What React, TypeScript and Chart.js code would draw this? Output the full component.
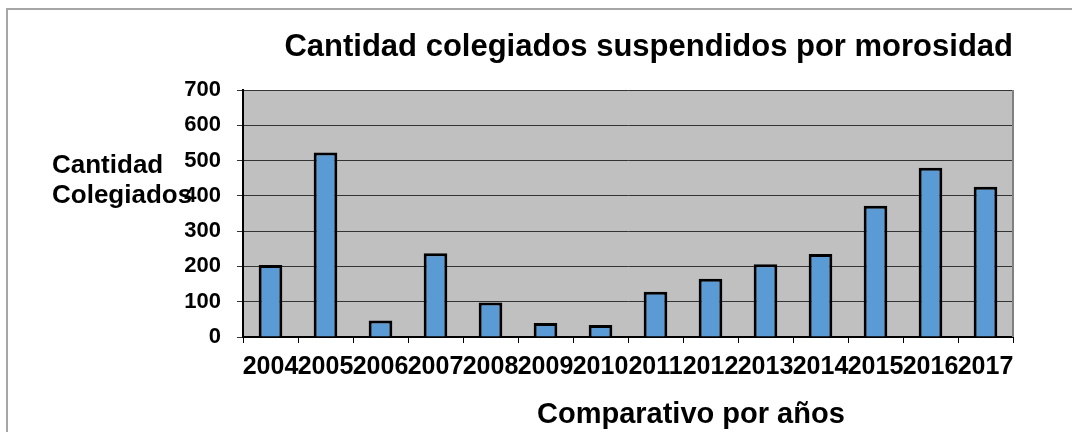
import React, { useEffect, useRef } from 'react';
import { Chart, registerables } from 'chart.js';

Chart.register(...registerables);

const years = ['2004', '2005', '2006', '2007', '2008', '2009', '2010', '2011', '2012', '2013', '2014', '2015', '2016', '2017'];
const suspended = [204, 523, 47, 237, 98, 40, 34, 128, 165, 206, 235, 372, 480, 426];
const yMin = 0;
const yMax = 700;
const yStep = 100;
const chartTitle = 'Cantidad colegiados suspendidos por morosidad';
const yTitleLines = ['Cantidad', 'Colegiados'];
const xTitle = 'Comparativo por años';

const FONT = '"Liberation Sans", Arial, Helvetica, sans-serif';

const decorPlugin = {
  id: 'decor',
  beforeDraw(chart: any) {
    const { ctx, chartArea: a, width, height } = chart;
    ctx.save();
    ctx.fillStyle = '#ffffff';
    ctx.fillRect(0, 0, width, height);
    ctx.strokeStyle = '#a6a6a6';
    ctx.lineWidth = 2;
    ctx.strokeRect(7, 9, width + 40, height + 40);
    ctx.fillStyle = '#c0c0c0';
    ctx.fillRect(a.left, a.top, a.right - a.left, a.bottom - a.top);
    ctx.restore();
  },
  afterDraw(chart: any) {
    const { ctx, chartArea: a } = chart;
    ctx.save();
    ctx.strokeStyle = '#808080';
    ctx.lineWidth = 2;
    ctx.beginPath();
    ctx.moveTo(a.right, a.top);
    ctx.lineTo(a.right, a.bottom);
    ctx.stroke();

    ctx.fillStyle = '#000';
    ctx.textBaseline = 'alphabetic';
    ctx.textAlign = 'left';
    ctx.font = `bold 26px ${FONT}`;
    ctx.fillText(yTitleLines[0], 52, 173);
    ctx.fillText(yTitleLines[1], 52, 203);

    ctx.font = `bold 29px ${FONT}`;
    ctx.fillText(xTitle, 537, 423);
    ctx.restore();
  },
};

export default function App() {
  const canvasRef = useRef<HTMLCanvasElement | null>(null);

  useEffect(() => {
    if (!canvasRef.current) return;
    const chart = new Chart(canvasRef.current, {
      type: 'bar',
      data: {
        labels: years,
        datasets: [
          {
            data: suspended,
            backgroundColor: '#5b9bd5',
            borderColor: '#000000',
            borderWidth: 3,
            barPercentage: 0.43,
            categoryPercentage: 1,
          },
        ],
      },
      options: {
        animation: false,
        responsive: true,
        maintainAspectRatio: false,
        layout: { padding: { left: 0, right: 59, top: 0, bottom: 0 } },
        plugins: {
          legend: { display: false },
          tooltip: { enabled: false },
          title: {
            display: true,
            text: chartTitle,
            align: 'end',
            color: '#000',
            font: { family: FONT, size: 31, weight: 'bold' },
            padding: { top: 29, bottom: 23.8 },
          },
        },
        scales: {
          x: {
            ticks: {
              autoSkip: false,
              maxRotation: 0,
              minRotation: 0,
              padding: 9,
              color: '#000',
              font: { family: FONT, size: 25, weight: 'bold' },
            },
            grid: {
              drawOnChartArea: false,
              drawTicks: true,
              tickLength: 6,
              color: '#000',
              offset: true,
            },
            border: { color: '#000', width: 2 },
            afterFit: (s: any) => {
              s.height = 95;
            },
          },
          y: {
            min: yMin,
            max: yMax,
            ticks: {
              stepSize: yStep,
              padding: 16,
              color: '#000',
              font: { family: FONT, size: 22, weight: 'bold' },
            },
            grid: {
              color: '#333333',
              lineWidth: 1,
              tickLength: 6,
              drawTicks: true,
            },
            border: { color: '#000', width: 2 },
            afterFit: (s: any) => {
              s.width = 243;
            },
          },
        },
      },
      plugins: [decorPlugin],
    } as any);
    return () => chart.destroy();
  }, []);

  return (
    <div style={{ position: 'fixed', left: 0, top: 0, width: 1072, height: 432 }}>
      <canvas ref={canvasRef} />
    </div>
  );
}
